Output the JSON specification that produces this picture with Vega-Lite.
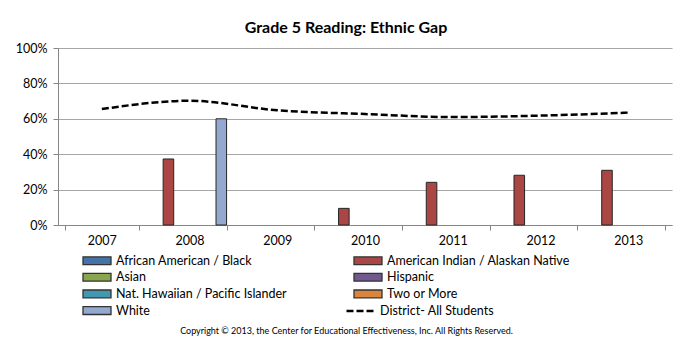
{
  "$schema": "https://vega.github.io/schema/vega-lite/v6.json",
  "autosize": "none",
  "width": 614,
  "height": 177,
  "padding": {"left": 58, "top": 48, "right": 11, "bottom": 114},
  "background": "white",
  "config": {
    "font": "Lato",
    "view": {"stroke": null},
    "axis": {"labelFont": "Lato", "labelColor": "#000000", "labelFontSize": 12.5, "domainColor": "#868686", "tickColor": "#868686", "gridColor": "#A6A6A6"}
  },
  "title": {
    "text": "Grade 5 Reading: Ethnic Gap",
    "font": "Lato",
    "fontSize": 16,
    "fontWeight": "bold",
    "color": "#000000",
    "anchor": "middle",
    "dx": -19,
    "offset": 6
  },
  "datasets": {
    "bars": [
      {"year": "2008", "series": "American Indian / Alaskan Native", "value": 0.373},
      {"year": "2008", "series": "White", "value": 0.60},
      {"year": "2010", "series": "American Indian / Alaskan Native", "value": 0.094},
      {"year": "2011", "series": "American Indian / Alaskan Native", "value": 0.241},
      {"year": "2012", "series": "American Indian / Alaskan Native", "value": 0.281},
      {"year": "2013", "series": "American Indian / Alaskan Native", "value": 0.309}
    ],
    "district": [
      {"year": "2007", "series": "District- All Students", "value": 0.655},
      {"year": "2008", "series": "District- All Students", "value": 0.702},
      {"year": "2009", "series": "District- All Students", "value": 0.648},
      {"year": "2010", "series": "District- All Students", "value": 0.627},
      {"year": "2011", "series": "District- All Students", "value": 0.61},
      {"year": "2012", "series": "District- All Students", "value": 0.618},
      {"year": "2013", "series": "District- All Students", "value": 0.635}
    ]
  },
  "layer": [
    {
      "data": {"name": "bars"},
      "mark": {"type": "bar", "stroke": "#262626", "strokeWidth": 1},
      "encoding": {
        "x": {
          "field": "year", "type": "ordinal",
          "scale": {"domain": ["2007","2008","2009","2010","2011","2012","2013"], "paddingInner": 0.156, "paddingOuter": 0.078},
          "axis": {
            "title": "Copyright © 2013, the Center for Educational Effectiveness, Inc.  All Rights Reserved.",
            "titleFont": "Lato", "titleFontSize": 9, "titleFontWeight": "normal", "titleColor": "#000000",
            "titleX": 288, "titleY": 108, "titleAnchor": "middle", "titleAlign": "center", "titleBaseline": "alphabetic",
            "labelAngle": 0, "tickBand": "extent", "tickSize": 5, "labelPadding": 4
          }
        },
        "xOffset": {
          "field": "series", "type": "nominal",
          "scale": {"domain": ["African American / Black","American Indian / Alaskan Native","Asian","Hispanic","Nat. Hawaiian / Pacific Islander","Two or More","White"], "paddingInner": 0, "paddingOuter": 0}
        },
        "y": {
          "field": "value", "type": "quantitative",
          "scale": {"domain": [0, 1]},
          "axis": {"title": null, "format": ".0%", "values": [0, 0.2, 0.4, 0.6, 0.8, 1], "tickCount": 6, "labelOverlap": false, "tickSize": 5, "labelPadding": 6, "grid": true}
        },
        "color": {
          "field": "series", "type": "nominal",
          "scale": {
            "domain": ["African American / Black","American Indian / Alaskan Native","Asian","Hispanic","Nat. Hawaiian / Pacific Islander","Two or More","White"],
            "range": ["#4572A7","#AA4643","#89A54E","#71588F","#4198AF","#DB843D","#93A9CF"]
          },
          "legend": {
            "title": null,
            "orient": "none",
            "legendX": 24,
            "legendY": 204.5,
            "columns": 2,
            "direction": "horizontal",
            "columnPadding": 64,
            "rowPadding": 1.7,
            "labelFont": "Lato",
            "labelFontSize": 12.5,
            "labelColor": "#000000",
            "labelLimit": 300,
            "labelOffset": 18,
            "symbolSize": 196,
            "symbolType": "M-1,-0.557H3V0.557H-1Z",
            "symbolStrokeColor": "#333333",
            "symbolStrokeWidth": 1.3,
            "symbolOpacity": 1
          }
        }
      }
    },
    {
      "data": {"name": "district"},
      "mark": {"type": "line", "interpolate": "monotone", "strokeWidth": 2.5, "color": "#000000"},
      "encoding": {
        "x": {"field": "year", "type": "ordinal"},
        "y": {"field": "value", "type": "quantitative"},
        "strokeDash": {
          "field": "series", "type": "nominal",
          "scale": {"domain": ["District- All Students"], "range": [[7, 3]]},
          "legend": {
            "title": null,
            "orient": "none",
            "legendX": 287,
            "legendY": 254.5,
            "labelFont": "Lato",
            "labelFontSize": 12.5,
            "labelColor": "#000000",
            "labelLimit": 300,
            "labelOffset": 18,
            "symbolSize": 196,
            "symbolType": "M-1,0H3",
            "symbolStrokeColor": "#000000",
            "symbolStrokeWidth": 2.5,
            "symbolDash": [5, 2.5]
          }
        }
      }
    }
  ]
}
